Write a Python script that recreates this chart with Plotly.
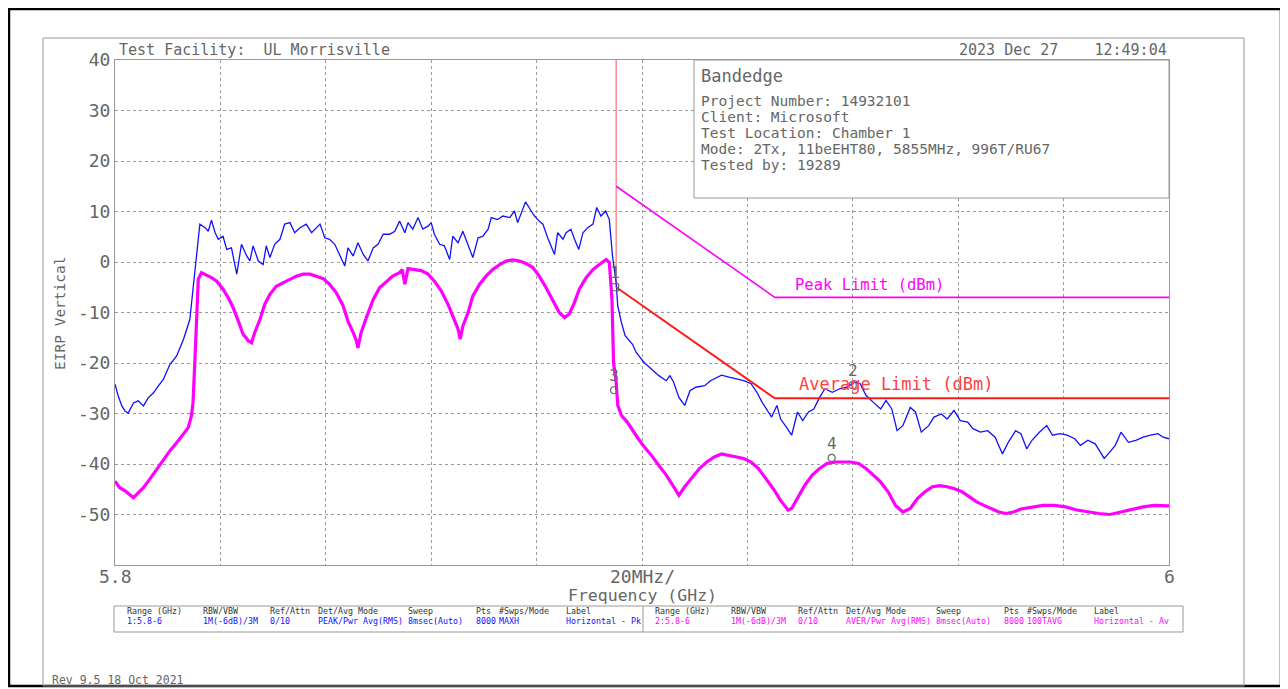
import plotly.graph_objects as go

# ---------------- data ----------------
blue_f = [5.8000, 5.8006, 5.8013, 5.8019, 5.8025, 5.8035, 5.8044, 5.8054, 5.8063, 5.8073,
          5.8082, 5.8092, 5.8104, 5.8117, 5.8130, 5.8142, 5.8148, 5.8155, 5.8161, 5.8171,
          5.8177, 5.8183, 5.8190, 5.8196, 5.8205, 5.8212, 5.8221, 5.8231, 5.8240, 5.8250,
          5.8256, 5.8262, 5.8272, 5.8281, 5.8287, 5.8294, 5.8303, 5.8313, 5.8322, 5.8332,
          5.8341, 5.8351, 5.8363, 5.8373, 5.8389, 5.8398, 5.8407, 5.8417, 5.8426, 5.8436,
          5.8442, 5.8452, 5.8461, 5.8471, 5.8480, 5.8490, 5.8499, 5.8509, 5.8521, 5.8531,
          5.8540, 5.8550, 5.8556, 5.8565, 5.8575, 5.8584, 5.8594, 5.8600, 5.8606, 5.8616,
          5.8625, 5.8635, 5.8641, 5.8651, 5.8660, 5.8670, 5.8679, 5.8689, 5.8698, 5.8708,
          5.8714, 5.8726, 5.8736, 5.8749, 5.8758, 5.8764, 5.8771, 5.8779, 5.8788, 5.8796,
          5.8805, 5.8812, 5.8821, 5.8834, 5.8840, 5.8850, 5.8856, 5.8865, 5.8872, 5.8880,
          5.8888, 5.8897, 5.8907, 5.8914, 5.8922, 5.8931, 5.8938, 5.8944, 5.8951,
          5.8954, 5.8961, 5.8968, 5.8982, 5.8989, 5.9004, 5.9018, 5.9032, 5.9046, 5.9053,
          5.9060, 5.9070, 5.9081, 5.9091, 5.9102, 5.9119, 5.9130, 5.9151, 5.9165, 5.9179,
          5.9193, 5.9207, 5.9218, 5.9228, 5.9239, 5.9246, 5.9256, 5.9263, 5.9274, 5.9284,
          5.9295, 5.9305, 5.9316, 5.9326, 5.9337, 5.9347, 5.9361, 5.9375, 5.9389, 5.9404,
          5.9414, 5.9425, 5.9439, 5.9453, 5.9463, 5.9474, 5.9484, 5.9495, 5.9509, 5.9519,
          5.9530, 5.9544, 5.9554, 5.9568, 5.9579, 5.9592, 5.9604, 5.9618, 5.9628, 5.9642,
          5.9656, 5.9670, 5.9684, 5.9695, 5.9709, 5.9719, 5.9730, 5.9740, 5.9754, 5.9768,
          5.9779, 5.9793, 5.9807, 5.9821, 5.9832, 5.9846, 5.9860, 5.9877, 5.9888, 5.9898,
          5.9909, 5.9923, 5.9937, 5.9951, 5.9965, 5.9979, 5.9989, 6.0000]
blue_db = [-24.2, -26.5, -28.5, -29.5, -29.9, -27.9, -27.5, -28.5, -26.9, -25.9,
           -24.6, -23.2, -20.3, -18.6, -15.3, -11.4, -5.4, 1.2, 7.5, 6.8,
           6.1, 8.3, 5.8, 4.5, 5.1, 2.5, 2.8, -2.4, 3.5, 1.2,
           0.2, 3.2, 0.2, -0.5, 3.2, 0.9, 3.5, 4.5, 7.5, 7.8,
           5.8, 6.8, 7.5, 5.8, 7.5, 4.8, 4.5, 3.5, 1.5, -0.8,
           2.8, 1.2, 3.8, 1.5, 0.2, 2.8, 3.5, 5.5, 5.5, 6.1,
           8.1, 5.8, 7.8, 6.5, 8.8, 6.5, 7.1, 7.8, 5.5, 3.5,
           3.2, 0.5, 5.1, 3.8, 6.1, 3.2, 0.9, 4.8, 5.1, 6.5,
           8.8, 8.4, 9.1, 8.8, 10.1, 7.8, 9.8, 11.9, 10.4, 9.1,
           8.1, 7.5, 4.8, 1.5, 5.8, 4.5, 5.8, 6.5, 4.5, 2.5,
           5.8, 6.8, 7.5, 10.8, 9.1, 10.1, 8.4, 1.2, -4.1,
           -8.7, -12.0, -14.6, -16.3, -17.9, -19.9, -21.2, -22.5, -23.5, -22.5,
           -23.8, -26.8, -28.4, -25.5, -24.8, -24.5, -23.5, -22.4, -22.8, -23.2,
           -23.5, -24.1, -25.8, -27.8, -29.7, -30.7, -28.4, -31.1, -32.7, -34.3,
           -29.7, -31.4, -29.7, -29.1, -26.8, -25.1, -25.8, -25.1, -24.8, -23.8,
           -24.1, -26.4, -27.8, -29.1, -27.4, -29.1, -33.4, -32.4, -28.8, -29.7,
           -33.7, -32.4, -30.7, -30.1, -31.1, -29.4, -31.4, -31.7, -33.0, -33.7,
           -33.4, -34.7, -38.0, -35.7, -33.4, -34.0, -37.0, -35.3, -33.7, -32.4,
           -34.3, -34.0, -34.3, -35.0, -36.3, -35.3, -36.0, -38.9, -37.6, -36.3,
           -33.7, -35.7, -35.3, -34.7, -34.3, -34.0, -34.7, -35.0]

mag_f = [5.8000, 5.8009, 5.8019, 5.8028, 5.8035, 5.8044, 5.8054, 5.8066, 5.8079, 5.8092,
         5.8104, 5.8117, 5.8130, 5.8139, 5.8145, 5.8148, 5.8152, 5.8155, 5.8158, 5.8164,
         5.8174, 5.8183, 5.8193, 5.8205, 5.8215, 5.8224, 5.8234, 5.8243, 5.8253, 5.8259,
         5.8265, 5.8275, 5.8284, 5.8294, 5.8306, 5.8319, 5.8332, 5.8344, 5.8357, 5.8370,
         5.8382, 5.8395, 5.8407, 5.8420, 5.8433, 5.8442, 5.8452, 5.8458, 5.8461, 5.8467,
         5.8477, 5.8490, 5.8502, 5.8515, 5.8527, 5.8540, 5.8545, 5.8550, 5.8556, 5.8569,
         5.8581, 5.8594, 5.8606, 5.8619, 5.8632, 5.8641, 5.8651, 5.8655, 5.8660, 5.8670,
         5.8679, 5.8692, 5.8704, 5.8717, 5.8730, 5.8742, 5.8755, 5.8768, 5.8780, 5.8793,
         5.8805, 5.8818, 5.8831, 5.8843, 5.8853, 5.8862, 5.8872, 5.8881, 5.8894, 5.8907,
         5.8919, 5.8932, 5.8938, 5.8943, 5.8946, 5.8951,
         5.8954, 5.8961, 5.8972, 5.8982, 5.8993, 5.9004, 5.9018, 5.9032, 5.9046, 5.9060,
         5.9070, 5.9081, 5.9095, 5.9109, 5.9123, 5.9137, 5.9151, 5.9165, 5.9179, 5.9193,
         5.9207, 5.9221, 5.9235, 5.9249, 5.9263, 5.9277, 5.9284, 5.9295, 5.9309, 5.9323,
         5.9337, 5.9351, 5.9368, 5.9382, 5.9396, 5.9411, 5.9425, 5.9439, 5.9453, 5.9467,
         5.9481, 5.9495, 5.9509, 5.9523, 5.9537, 5.9551, 5.9565, 5.9579, 5.9593, 5.9607,
         5.9621, 5.9635, 5.9649, 5.9663, 5.9677, 5.9691, 5.9705, 5.9719, 5.9740, 5.9761,
         5.9782, 5.9804, 5.9825, 5.9846, 5.9867, 5.9888, 5.9909, 5.9930, 5.9951, 5.9972,
         6.0000]
mag_db = [-43.4, -44.7, -45.3, -46.0, -46.7, -45.7, -44.7, -43.0, -41.1, -39.1,
          -37.4, -35.8, -34.1, -32.8, -30.5, -27.9, -18.6, -8.7, -3.4, -2.1,
          -2.6, -3.1, -3.8, -5.4, -7.1, -9.0, -11.7, -14.3, -15.6, -16.0,
          -14.0, -11.4, -8.4, -6.4, -4.8, -4.1, -3.3, -2.8, -2.4, -2.4,
          -2.8, -3.3, -4.4, -6.1, -8.7, -11.7, -14.0, -15.6, -17.0, -14.0,
          -11.0, -7.4, -5.1, -3.8, -2.8, -2.1, -1.5, -4.4, -1.3, -1.5,
          -1.7, -2.4, -3.8, -5.7, -8.4, -10.7, -13.3, -15.3, -12.7, -10.0,
          -6.7, -4.4, -2.8, -1.5, -0.5, 0.2, 0.4, 0.2, -0.3, -1.1,
          -2.8, -5.1, -7.7, -10.0, -11.0, -10.3, -8.0, -5.4, -3.1, -1.5,
          -0.5, 0.5, -0.1, -7.4, -19.9, -23.8,
          -28.4, -30.4, -31.7, -33.4, -35.0, -36.6, -38.3, -40.3, -42.2, -44.5,
          -46.2, -44.5, -42.6, -40.9, -39.6, -38.6, -38.0, -38.3, -38.6, -38.9,
          -39.6, -40.9, -42.9, -44.9, -47.2, -49.1, -48.8, -46.8, -44.2, -42.2,
          -40.9, -39.9, -39.6, -39.6, -39.6, -39.9, -40.9, -42.2, -43.6, -45.5,
          -48.2, -49.5, -48.8, -46.8, -45.5, -44.5, -44.3, -44.5, -44.9, -45.5,
          -46.5, -47.5, -48.2, -48.8, -49.5, -49.8, -49.5, -48.9, -48.5, -48.2,
          -48.2, -48.5, -49.1, -49.5, -49.8, -50.0, -49.5, -48.9, -48.5, -48.2,
          -48.3]

peak_limit_f = [5.8951, 5.9252, 6.0]
peak_limit_db = [15, -7, -7]
avg_limit_f = [5.8951, 5.9252, 6.0]
avg_limit_db = [-5, -27, -27]
edge_line_f = [5.8951, 5.8951]
edge_line_db = [40, -5]

marker_labels = ["1", "2", "3", "4"]
marker_f = [5.8949, 5.9400, 5.8947, 5.9360]
marker_db = [-5.0, -24.4, -25.4, -38.8]
marker_symbols = ["square-open", "circle-open", "circle-open", "circle-open"]

x_tickvals = [5.80, 5.82, 5.84, 5.86, 5.88, 5.90, 5.92, 5.94, 5.96, 5.98, 6.00]
x_ticktext = ["5.8", "", "", "", "", "20MHz/", "", "", "", "", "6"]
y_tickvals = [-60, -50, -40, -30, -20, -10, 0, 10, 20, 30, 40]
y_ticktext = ["", "-50", "-40", "-30", "-20", "-10", "0", "10", "20", "30", "40"]

info_title = "Bandedge"
info_lines = ["Project Number: 14932101", "Client: Microsoft", "Test Location: Chamber 1",
              "Mode: 2Tx, 11beEHT80, 5855MHz, 996T/RU67", "Tested by: 19289"]

table_headers = ["Range (GHz)", "RBW/VBW", "Ref/Attn", "Det/Avg Mode", "Sweep", "Pts", "#Swps/Mode", "Label"]
table_row1 = ["1:5.8-6", "1M(-6dB)/3M", "0/10", "PEAK/Pwr Avg(RMS)", "8msec(Auto)", "8000", "MAXH", "Horizontal - Pk"]
table_row2 = ["2:5.8-6", "1M(-6dB)/3M", "0/10", "AVER/Pwr Avg(RMS)", "8msec(Auto)", "8000", "100TAVG", "Horizontal - Av"]

# ---------------- layout helpers (reference pixel -> paper) ----------------
OFF = 8                      # page body margin of the browser
L, R, T, B = 115, 1169, 60, 565
W, H = 1288 - OFF, 689 - OFF


def px(x):
    return (x - L) / (R - L)


def py(y):
    return (B - y) / (B - T)


MONO = "DejaVu Sans Mono"
GRAY = "#666666"
BLUE = "#1010ff"
MAG = "#ff00ff"
RED = "#ff1a1a"

fig = go.Figure()

fig.add_trace(go.Scatter(x=edge_line_f, y=edge_line_db, mode="lines",
                         line=dict(color="#ff8c8c", width=1.5), hoverinfo="skip"))
fig.add_trace(go.Scatter(x=mag_f, y=mag_db, mode="lines",
                         line=dict(color=MAG, width=3.2), hoverinfo="skip"))
fig.add_trace(go.Scatter(x=blue_f, y=blue_db, mode="lines",
                         line=dict(color=BLUE, width=1.3), hoverinfo="skip"))
fig.add_trace(go.Scatter(x=peak_limit_f, y=peak_limit_db, mode="lines",
                         line=dict(color=MAG, width=1.6), hoverinfo="skip"))
fig.add_trace(go.Scatter(x=avg_limit_f, y=avg_limit_db, mode="lines",
                         line=dict(color=RED, width=2), hoverinfo="skip"))
fig.add_trace(go.Scatter(x=marker_f, y=marker_db, mode="markers+text",
                         text=marker_labels, textposition="top center",
                         textfont=dict(family=MONO, size=16, color=GRAY),
                         marker=dict(symbol=marker_symbols, size=7, color=GRAY,
                                     line=dict(width=1.2, color=GRAY)),
                         cliponaxis=False, hoverinfo="skip"))

shapes = []
# outer black frame and inner grey frame
shapes.append(dict(type="rect", xref="paper", yref="paper", x0=px(OFF + 1), x1=px(1281), y0=py(686), y1=py(OFF + 1),
                   line=dict(color="black", width=2.5), layer="above"))
shapes.append(dict(type="rect", xref="paper", yref="paper", x0=px(43), x1=px(1244), y0=py(686), y1=py(38),
                   line=dict(color="#999999", width=1), layer="above"))
# info box
shapes.append(dict(type="rect", xref="paper", yref="paper", x0=px(694), x1=px(1169), y0=py(198), y1=py(60),
                   line=dict(color="#999999", width=1), fillcolor="white", layer="above"))
# settings table
shapes.append(dict(type="rect", xref="paper", yref="paper", x0=px(114), x1=px(1183), y0=py(632), y1=py(606),
                   line=dict(color="#999999", width=1), layer="above"))
shapes.append(dict(type="line", xref="paper", yref="paper", x0=px(643), x1=px(643), y0=py(632), y1=py(606),
                   line=dict(color="#999999", width=1), layer="above"))

ann = []


def text(x, y, s, size, color=GRAY, anchor="left", angle=0):
    ann.append(dict(x=px(x), y=py(y), xref="paper", yref="paper", text=s, showarrow=False,
                    xanchor=anchor, yanchor="middle", textangle=angle,
                    font=dict(family=MONO, size=size, color=color)))


text(117, 50, "Test Facility:  UL Morrisville", 15)
text(1169, 50, "2023 Dec 27    12:49:04", 15, anchor="right")
text(699, 76, info_title, 17)
for i, line in enumerate(info_lines):
    text(699, 101 + 16 * i, line, 14.5)
text(793, 285, "Peak Limit (dBm)", 15.5, color=MAG)
text(797, 384, "Average Limit (dBm)", 17, color="#ff4040")
text(642, 595, "Frequency (GHz)", 16.5, anchor="center")
text(60, 313, "EIRP Vertical", 14.5, anchor="center", angle=-90)
text(50, 680, "Rev 9.5 18 Oct 2021", 11.5)

# x-axis labels drawn at the tick positions of the axis
for v, s in zip(x_tickvals, x_ticktext):
    if s:
        ann.append(dict(x=v, y=py(576), xref="x", yref="paper", text=s, showarrow=False,
                        xanchor="center", yanchor="middle",
                        font=dict(family=MONO, size=18, color=GRAY)))

col_x1 = [125, 201, 268, 316, 406, 474, 497, 564]
for i in range(len(table_headers)):
    text(col_x1[i], 611, table_headers[i], 8.3, color="#333333")
    text(col_x1[i], 621, table_row1[i], 8.3, color=BLUE)
    text(col_x1[i] + 528, 611, table_headers[i], 8.3, color="#333333")
    text(col_x1[i] + 528, 621, table_row2[i], 8.3, color=MAG)

fig.update_layout(
    width=W, height=H,
    margin=dict(l=L - OFF, r=(1288 - R), t=T - OFF, b=(689 - B)),
    plot_bgcolor="white", paper_bgcolor="white", showlegend=False,
    shapes=shapes, annotations=ann,
    xaxis=dict(range=[5.8, 6.0], tickvals=x_tickvals, ticktext=x_ticktext, showticklabels=False,
               showgrid=True, gridcolor="#9a9a9a", griddash="dot", gridwidth=1,
               showline=True, linecolor="#999999", mirror=True, zeroline=False, ticks=""),
    yaxis=dict(range=[-60, 40], tickvals=y_tickvals, ticktext=y_ticktext,
               showgrid=True, gridcolor="#9a9a9a", griddash="dot", gridwidth=1,
               showline=True, linecolor="#999999", mirror=True, zeroline=False,
               ticks="", tickfont=dict(family=MONO, size=18, color=GRAY)),
)

fig.write_html("out.html")
